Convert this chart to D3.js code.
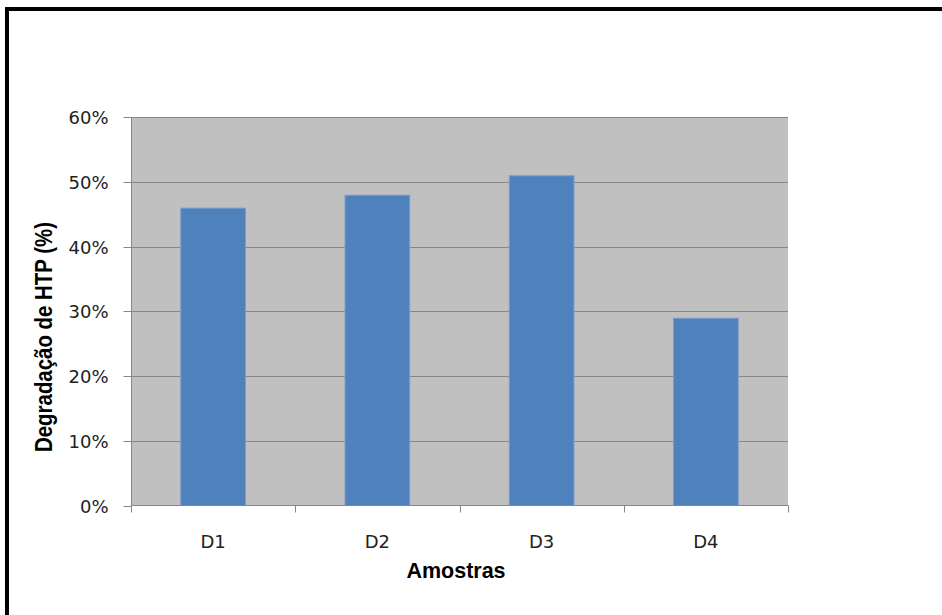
<!DOCTYPE html>
<html><head><meta charset="utf-8">
<script src="https://cdn.jsdelivr.net/npm/d3@7"></script>
<style>html,body{margin:0;padding:0;background:#fff;overflow:hidden}</style>
</head><body>
<svg id="c" width="942" height="615"></svg>
<script>
const categories = ["D1", "D2", "D3", "D4"];
const values = [0.46, 0.48, 0.51, 0.29];
const yTicks = [0, 0.1, 0.2, 0.3, 0.4, 0.5, 0.6];
const yTitle = "Degradação de HTP (%)";
const xTitle = "Amostras";

const svg = d3.select("#c");
svg.append("rect").attr("x", 7).attr("y", 9).attr("width", 1000).attr("height", 700)
  .attr("fill", "#fff").attr("stroke", "#000").attr("stroke-width", 4);

const L = 131, R = 788, T = 117, B = 505.5;
const x = d3.scaleBand().domain(categories).range([L, R]).paddingInner(0.6).paddingOuter(0.3);
const xb = d3.scaleBand().domain(categories).range([L, R]);
const y = d3.scaleLinear().domain([0, 0.6]).range([B, T]);
const grid = "#878787";

svg.append("rect").attr("x", L).attr("y", T).attr("width", R - L).attr("height", B - T).attr("fill", "#c0c0c0");

svg.append("g").selectAll("line").data(yTicks.filter(d => d > 0)).join("line")
  .attr("x1", L).attr("x2", R).attr("y1", d => Math.round(y(d)) + 0.5).attr("y2", d => Math.round(y(d)) + 0.5)
  .attr("stroke", grid).attr("stroke-width", 1);

svg.append("g").selectAll("rect").data(values).join("rect")
  .attr("x", (d, i) => x(categories[i]) + 0.5)
  .attr("y", d => y(d) + 0.5)
  .attr("width", x.bandwidth() - 1)
  .attr("height", d => B - y(d) - 0.5)
  .attr("fill", "#4f81bd").attr("stroke", "#7a9ccc").attr("stroke-width", 1);

// y axis
const yAxis = d3.axisLeft(y).tickValues(yTicks).tickFormat(d3.format(".0%")).tickSize(8).tickPadding(15);
const gy = svg.append("g").attr("transform", `translate(${L + 0.5},0)`).call(yAxis);
gy.select(".domain").attr("stroke", grid).attr("d", `M0,${T}V${B}`);
gy.selectAll(".tick line").attr("stroke", grid);
gy.selectAll(".tick").attr("transform", d => `translate(0,${Math.round(y(d)) + 0.5})`);
gy.selectAll("text").attr("font-family", "DejaVu Sans").attr("font-size", 18).attr("fill", "#222").attr("dy", "0.36em");

// x axis
const gx = svg.append("g").attr("transform", `translate(0,${B})`);
gx.append("line").attr("x1", L).attr("x2", R + 0.5).attr("y1", 0).attr("y2", 0).attr("stroke", grid);
const bounds = categories.map(c => xb(c)).concat([R]);
gx.selectAll("line.tk").data(bounds).join("line").attr("class", "tk")
  .attr("x1", d => Math.round(d) + 0.5).attr("x2", d => Math.round(d) + 0.5).attr("y1", 0).attr("y2", 7).attr("stroke", grid);
gx.selectAll("text").data(categories).join("text")
  .attr("x", d => xb(d) + xb.bandwidth() / 2).attr("y", 42)
  .attr("text-anchor", "middle").attr("font-family", "DejaVu Sans").attr("font-size", 18).attr("fill", "#222")
  .text(d => d);

svg.append("text").attr("x", 456).attr("y", 578).attr("text-anchor", "middle")
  .attr("font-family", "Liberation Sans, Arial, sans-serif").attr("font-weight", "bold").attr("font-size", 21.5)
  .attr("fill", "#000").text(xTitle);

svg.append("text").attr("transform", "translate(52,337) rotate(-90)").attr("text-anchor", "middle")
  .attr("font-family", "Liberation Sans, Arial, sans-serif").attr("font-weight", "bold").attr("font-size", 23)
  .attr("textLength", 230).attr("lengthAdjust", "spacingAndGlyphs")
  .attr("fill", "#000").text(yTitle);
</script>
</body></html>
